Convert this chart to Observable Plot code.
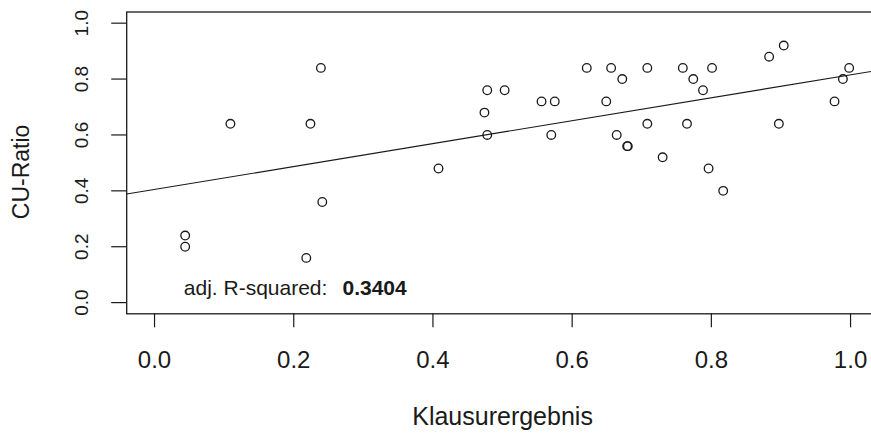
<!DOCTYPE html>
<html><head><meta charset="utf-8">
<script src="https://cdn.jsdelivr.net/npm/d3@7"></script>
<script src="https://cdn.jsdelivr.net/npm/@observablehq/plot@0.6"></script>
<style>html,body{margin:0;padding:0;overflow:hidden;background:#fff}</style>
</head><body><div id="chart"></div>
<script>
const klausur = [0.044, 0.044, 0.109, 0.218, 0.224, 0.239, 0.241, 0.408, 0.474, 0.478, 0.478, 0.503,
  0.556, 0.570, 0.575, 0.621, 0.649, 0.656, 0.664, 0.672, 0.679, 0.680, 0.708, 0.708, 0.730,
  0.759, 0.765, 0.774, 0.788, 0.796, 0.801, 0.817, 0.883, 0.897, 0.904, 0.977, 0.989, 0.998];
const cuRatio = [0.24, 0.20, 0.64, 0.16, 0.64, 0.84, 0.36, 0.48, 0.68, 0.76, 0.60, 0.76,
  0.72, 0.60, 0.72, 0.84, 0.72, 0.84, 0.60, 0.80, 0.56, 0.56, 0.84, 0.64, 0.52,
  0.84, 0.64, 0.80, 0.76, 0.48, 0.84, 0.40, 0.88, 0.64, 0.92, 0.72, 0.80, 0.84];
const xTicks = [0, 0.2, 0.4, 0.6, 0.8, 1.0];
const yTicks = [0, 0.2, 0.4, 0.6, 0.8, 1.0];
const fitIntercept = 0.405;
const fitSlope = 0.41;
const adjR2Label = "adj. R-squared:";
const adjR2Value = "0.3404";
const xLabel = "Klausurergebnis";
const yLabel = "CU-Ratio";

const pts = klausur.map((x, i) => ({x, y: cuRatio[i]}));
const xDomain = [-0.04, 1.04], yDomain = [-0.04, 1.04];
const fit = xDomain.map(x => ({x, y: fitIntercept + fitSlope * x}));
const fmt = d3.format(".1f");
const ink = "#1a1a1a";

const chart = Plot.plot({
  width: 871, height: 433,
  marginLeft: 126.2, marginRight: -6.9, marginTop: 11.5, marginBottom: 119.7,
  style: {fontFamily: "'Liberation Sans', Arial, sans-serif", color: ink, background: "#fff", overflow: "hidden"},
  x: {domain: xDomain},
  y: {domain: yDomain},
  marks: [
    Plot.axisX({ticks: xTicks, tickSize: 14, tickFormat: () => "", label: null, stroke: ink, strokeWidth: 1.2}),
    Plot.axisY({ticks: yTicks, tickSize: 15, tickFormat: () => "", label: null, stroke: ink, strokeWidth: 1.2}),
    Plot.text(xTicks, {x: d => d, text: fmt, frameAnchor: "bottom", dy: 47, textAnchor: "middle", lineAnchor: "middle", fontSize: 24, fill: ink}),
    Plot.text(yTicks, {y: d => d, text: fmt, frameAnchor: "left", dx: -45, textAnchor: "middle", lineAnchor: "middle", rotate: -90, fontSize: 19, fill: ink}),
    Plot.text([xLabel], {frameAnchor: "bottom", dy: 103, textAnchor: "middle", lineAnchor: "middle", fontSize: 25, fill: ink}),
    Plot.text([yLabel], {frameAnchor: "left", dx: -105, dy: 9, textAnchor: "middle", lineAnchor: "middle", rotate: -90, fontSize: 23, fill: ink}),
    Plot.line(fit, {x: "x", y: "y", stroke: ink, strokeWidth: 1.2, clip: true}),
    Plot.dot(pts, {x: "x", y: "y", r: 4.3, stroke: ink, strokeWidth: 1.3, fill: "none"}),
    Plot.text([adjR2Label], {x: 0.042, y: 0.053, textAnchor: "start", lineAnchor: "middle", fontSize: 21, fill: ink}),
    Plot.text([adjR2Value], {x: 0.27, y: 0.053, textAnchor: "start", lineAnchor: "middle", fontSize: 21, fontWeight: "bold", fill: ink}),
    Plot.frame({stroke: ink, strokeWidth: 1.3})
  ]
});
document.getElementById("chart").appendChild(chart);
</script>
</body></html>
